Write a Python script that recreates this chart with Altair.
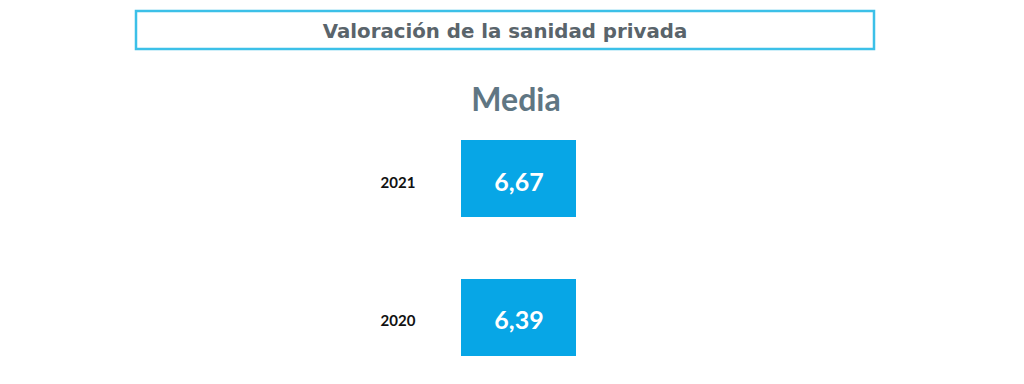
import altair as alt
import pandas as pd

title_text = ["Valoración de la sanidad privada"]
header_text = ["Media"]
years = ["2021", "2020"]
values = [6.67, 6.39]
labels = ["6,67", "6,39"]

df = pd.DataFrame({"year": years, "value": values, "label": labels})
tdf = pd.DataFrame({"title": title_text, "header": header_text})

yscale = alt.Scale(domain=years, range=[132, 348], paddingInner=0.446, paddingOuter=0)
Y = alt.Y("year:N", scale=yscale, axis=None)

title_box = alt.Chart(tdf).mark_rect(
    fill="white", stroke="#3cc0e8", strokeWidth=2.5
).encode(x=alt.value(128), x2=alt.value(866), y=alt.value(3), y2=alt.value(41))

title_txt = alt.Chart(tdf).mark_text(
    font="DejaVu Sans", fontWeight="bold", fontSize=19.8, color="#5a646b", baseline="middle", align="center"
).encode(text="title:N", x=alt.value(497), y=alt.value(23.5))

header = alt.Chart(tdf).mark_text(
    font="Lato", fontWeight="bold", fontSize=32, color="#5f7683", baseline="middle", align="center"
).encode(text="header:N", x=alt.value(508), y=alt.value(93))

boxes = alt.Chart(df).mark_rect(color="#07a6e6").encode(
    y=Y, x=alt.value(453), x2=alt.value(568)
)

vals = alt.Chart(df).mark_text(
    font="Lato", fontWeight="bold", fontSize=25, color="white", baseline="middle", align="center", dy=4
).encode(y=Y, text="label:N", x=alt.value(511))

yrs = alt.Chart(df).mark_text(
    font="Lato", fontWeight="bold", fontSize=15, color="#111111", baseline="middle", align="center", dy=4
).encode(y=Y, text="year:N", x=alt.value(390))

chart = alt.layer(title_box, title_txt, header, boxes, vals, yrs).properties(
    width=1008, height=368, padding=0, background="white",
    autosize=alt.AutoSizeParams(type="none")
).configure_view(strokeWidth=0, stroke="transparent")

chart.save("out.html", embed_options={"renderer": "svg", "actions": False})
